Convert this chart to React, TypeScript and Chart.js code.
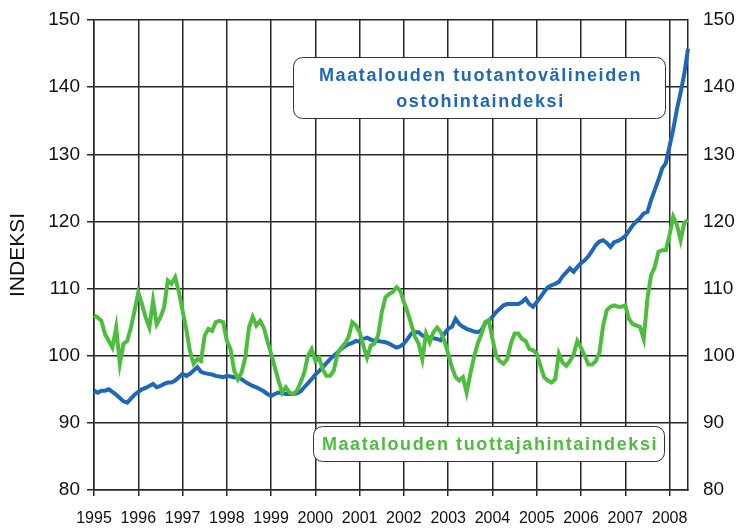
import React, { useEffect, useRef } from 'react';
import { Chart, registerables } from 'chart.js';

Chart.register(...registerables);

const years = ['1995', '1996', '1997', '1998', '1999', '2000', '2001', '2002', '2003', '2004', '2005', '2006', '2007', '2008'];
const monthNames = ['01', '02', '03', '04', '05', '06', '07', '08', '09', '10', '11', '12'];

// Maatalouden tuotantovälineiden ostohintaindeksi (monthly, 1995-01 .. 2008-06)
const inputPriceIndex = [
  94.8, 94.5, 94.8, 94.8, 95.0, 94.6, 94.2, 93.7, 93.2, 93.0, 93.6, 94.2,
  94.6, 95.0, 95.2, 95.5, 95.8, 95.3, 95.5, 95.8, 96.0, 96.0, 96.3, 96.8,
  97.3, 97.0, 97.3, 97.8, 98.3, 97.6, 97.4, 97.3, 97.2, 97.0, 96.9, 96.8,
  97.0, 96.9, 96.8, 96.7, 96.5, 96.1, 95.8, 95.5, 95.3, 95.0, 94.7, 94.3,
  94.0, 94.3, 94.5, 94.4, 94.3, 94.3, 94.3, 94.4, 94.7, 95.3, 95.9, 96.5,
  97.2, 97.7, 98.3, 98.9, 99.5, 100.0, 100.5, 101.0, 101.4, 101.7, 101.9, 102.2,
  102.1, 102.5, 102.7, 102.4, 102.2, 102.2, 102.1, 102.0, 101.8, 101.5, 101.2, 101.4,
  101.8, 102.5, 103.3, 103.5, 103.5, 103.0, 102.8, 102.7, 102.6, 102.5, 102.3, 103.3,
  104.0, 104.3, 105.5, 104.7, 104.3, 104.0, 103.8, 103.6, 103.5, 103.8, 104.8, 105.2,
  105.8, 106.5, 107.0, 107.5, 107.7, 107.7, 107.7, 107.7, 108.0, 108.5, 107.7, 107.3,
  108.0, 108.7, 109.5, 110.2, 110.5, 110.7, 111.0, 111.8, 112.4, 113.0, 112.5, 113.2,
  113.8, 114.2, 114.8, 115.6, 116.5, 117.0, 117.2, 116.8, 116.2, 116.9, 117.1, 117.4,
  117.8, 118.6, 119.4, 120.0, 120.5, 121.2, 121.4, 123.2, 124.7, 126.2, 127.9, 128.7,
  131.2, 133.7, 136.7, 139.2, 142.0, 145.7,
];

// Maatalouden tuottajahintaindeksi (monthly, 1995-01 .. 2008-06)
const producerPriceIndex = [
  106.0, 105.7, 105.2, 103.2, 102.2, 101.2, 104.2, 98.8, 101.8, 102.2, 104.2, 106.7,
  109.4, 107.7, 105.7, 104.2, 108.2, 104.7, 105.7, 107.2, 111.2, 110.7, 111.7, 109.5,
  106.7, 104.0, 100.7, 98.8, 99.5, 99.2, 103.0, 104.0, 103.7, 105.0, 105.2, 105.0,
  102.2, 101.0, 97.8, 96.5, 97.5, 99.7, 104.2, 105.8, 104.5, 105.2, 104.2, 102.2,
  100.3, 98.3, 96.3, 94.5, 95.3, 94.5, 94.3, 94.8, 96.0, 97.5, 100.0, 101.0,
  99.2, 99.7, 98.0, 97.0, 97.0, 97.8, 100.3, 101.2, 101.8, 102.8, 105.0, 104.5,
  103.5, 101.5, 99.7, 101.5, 101.8, 103.0, 106.5, 108.7, 109.2, 109.5, 110.2, 109.7,
  108.0, 106.5, 104.7, 102.8, 101.8, 99.5, 103.3, 102.0, 103.5, 104.2, 103.5, 102.2,
  100.3, 98.3, 96.8, 96.3, 96.8, 94.5, 97.3, 99.8, 101.8, 103.2, 105.0, 105.3,
  102.5, 100.0, 99.2, 98.8, 99.5, 101.8, 103.3, 103.3, 102.5, 102.2, 101.0, 100.8,
  100.3, 98.5, 96.8, 96.3, 96.0, 96.5, 100.3, 99.0, 98.5, 99.2, 100.2, 102.2,
  101.2, 100.0, 98.7, 98.7, 99.2, 100.5, 104.5, 106.8, 107.3, 107.5, 107.3, 107.3,
  107.5, 105.5, 104.7, 104.5, 104.3, 102.5, 108.5, 112.0, 113.2, 115.5, 115.7, 115.7,
  118.0, 120.7, 119.5, 117.2, 119.8, 120.2,
];

const yAxisMin = 80;
const yAxisMax = 150;
const yAxisStep = 10;
const yAxisTitle = 'INDEKSI';
const inputLabelLines = ['Maatalouden tuotantovälineiden', 'ostohintaindeksi'];
const producerLabelLines = ['Maatalouden tuottajahintaindeksi'];

const monthLabels: string[] = [];
years.forEach((y) => monthNames.forEach((m) => monthLabels.push(`${y}-${m}`)));
const labels = monthLabels.slice(0, inputPriceIndex.length);

const BLUE = '#1f67b9';
const GREEN = '#4dbd3e';
const GRID = '#262626';
const FONT = '"Liberation Sans", Arial, sans-serif';

function roundRect(ctx: CanvasRenderingContext2D, x: number, y: number, w: number, h: number, r: number) {
  ctx.beginPath();
  ctx.moveTo(x + r, y);
  ctx.lineTo(x + w - r, y);
  ctx.arcTo(x + w, y, x + w, y + r, r);
  ctx.lineTo(x + w, y + h - r);
  ctx.arcTo(x + w, y + h, x + w - r, y + h, r);
  ctx.lineTo(x + r, y + h);
  ctx.arcTo(x, y + h, x, y + h - r, r);
  ctx.lineTo(x, y + r);
  ctx.arcTo(x, y, x + r, y, r);
  ctx.closePath();
}

function drawLabelBox(chart: any, x0: number, y0: number, x1: number, y1: number, lines: string[], color: string) {
  const { ctx, scales } = chart;
  const left = Math.round(scales.x.getPixelForValue(x0)) + 0.5;
  const right = Math.round(scales.x.getPixelForValue(x1)) + 0.5;
  const top = Math.round(scales.y.getPixelForValue(y0)) + 0.5;
  const bottom = Math.round(scales.y.getPixelForValue(y1)) + 0.5;
  ctx.save();
  roundRect(ctx, left, top, right - left, bottom - top, 9);
  ctx.fillStyle = '#ffffff';
  ctx.fill();
  ctx.lineWidth = 1;
  ctx.strokeStyle = '#333333';
  ctx.stroke();
  ctx.fillStyle = color;
  ctx.font = `bold 18px ${FONT}`;
  (ctx as any).letterSpacing = '1.6px';
  ctx.textAlign = 'center';
  ctx.textBaseline = 'middle';
  const cx = (left + right) / 2 + 1;
  const cy = (top + bottom) / 2 + 1;
  const lh = 26;
  lines.forEach((line, i) => {
    ctx.fillText(line, cx, cy + (i - (lines.length - 1) / 2) * lh);
  });
  ctx.restore();
}

const labelBoxes = {
  id: 'labelBoxes',
  afterDatasetsDraw(chart: any) {
    drawLabelBox(chart, 54, 144.5, 154.8, 135.4, inputLabelLines, BLUE);
    drawLabelBox(chart, 59.4, 89.6, 154.5, 84.3, producerLabelLines, GREEN);
  },
};

export default function App() {
  const canvasRef = useRef<HTMLCanvasElement | null>(null);

  useEffect(() => {
    const canvas = canvasRef.current;
    if (!canvas) return;
    const chart = new Chart(canvas, {
      type: 'line',
      data: {
        labels,
        datasets: [
          {
            label: producerLabelLines[0],
            data: producerPriceIndex,
            borderColor: GREEN,
            borderWidth: 4,
            pointRadius: 0,
            tension: 0,
            order: 0,
          },
          {
            label: inputLabelLines.join(' '),
            data: inputPriceIndex,
            borderColor: BLUE,
            borderWidth: 4,
            pointRadius: 0,
            tension: 0,
            order: 1,
          },
        ],
      },
      options: {
        responsive: false,
        animation: false,
        layout: { padding: { top: 20, left: 0, right: 0, bottom: 0 } },
        plugins: {
          legend: { display: false },
          tooltip: { enabled: false },
        },
        scales: {
          x: {
            type: 'category',
            offset: false,
            border: { display: true, color: GRID, width: 1.5 },
            grid: {
              color: (c: any) => (c.index % 12 === 0 ? GRID : 'rgba(0,0,0,0)'),
              tickColor: (c: any) => (c.index % 12 === 0 ? GRID : 'rgba(0,0,0,0)'),
              lineWidth: 1.5,
              tickLength: 6,
            },
            ticks: {
              autoSkip: false,
              maxRotation: 0,
              minRotation: 0,
              padding: 13,
              color: '#111',
              font: { family: FONT, size: 16 },
              callback: (_v: any, i: number) => (i % 12 === 0 ? years[i / 12] : ''),
            },
            afterFit: (s: any) => {
              s.height = 39;
              s.paddingLeft = 0;
              s.paddingRight = 0;
            },
          },
          y: {
            position: 'left',
            min: yAxisMin,
            max: yAxisMax,
            border: { display: true, color: GRID, width: 1.5 },
            grid: { color: GRID, lineWidth: 1.5, tickLength: 7 },
            ticks: {
              stepSize: yAxisStep,
              padding: 7,
              color: '#111',
              font: { family: FONT, size: 19 },
            },
            title: {
              display: true,
              text: yAxisTitle,
              color: '#111',
              font: { family: FONT, size: 21 },
              padding: { top: 6, bottom: 0 },
            },
            afterFit: (s: any) => {
              s.width = 94;
              s.paddingTop = 0;
              s.paddingBottom = 0;
            },
          },
          y2: {
            position: 'right',
            min: yAxisMin,
            max: yAxisMax,
            border: { display: true, color: GRID, width: 1.5 },
            grid: { drawOnChartArea: false, drawTicks: false },
            ticks: {
              stepSize: yAxisStep,
              padding: 15,
              color: '#111',
              font: { family: FONT, size: 19 },
            },
            afterFit: (s: any) => {
              s.width = 54;
              s.paddingTop = 0;
              s.paddingBottom = 0;
            },
          },
        },
      },
      plugins: [labelBoxes],
    } as any);
    return () => chart.destroy();
  }, []);

  return (
    <div style={{ position: 'absolute', left: 0, top: 0, width: 742, height: 529, background: '#fff' }}>
      <canvas ref={canvasRef} width={742} height={529} />
    </div>
  );
}
